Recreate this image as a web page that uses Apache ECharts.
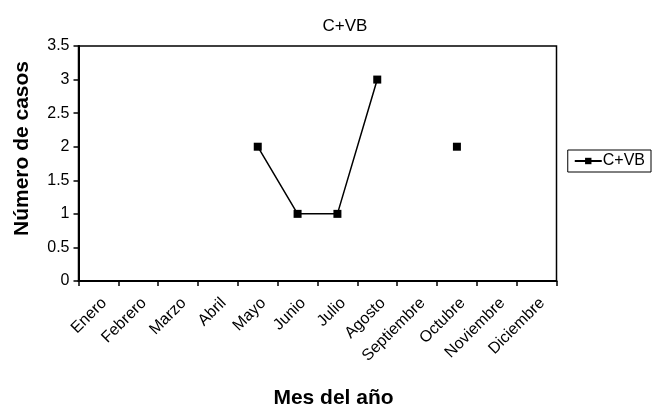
<!DOCTYPE html>
<html>
<head>
<meta charset="utf-8">
<script src="https://cdn.jsdelivr.net/npm/echarts@6/dist/echarts.min.js"></script>
<style>
  html, body { margin: 0; padding: 0; background: #fff; }
  #chart { width: 656px; height: 406px; }
</style>
</head>
<body>
<div id="chart"></div>
<script>
// Months of the year (x axis)
const months = ['Enero', 'Febrero', 'Marzo', 'Abril', 'Mayo', 'Junio', 'Julio',
  'Agosto', 'Septiembre', 'Octubre', 'Noviembre', 'Diciembre'];
// Number of C+VB cases per month (null = no data)
const casosCVB = [null, null, null, null, 2, 1, 1, 3, null, 2, null, null];
const seriesName = 'C+VB';
const yTicks = { min: 0, max: 3.5, interval: 0.5 };

const chart = echarts.init(document.getElementById('chart'), null, { renderer: 'canvas' });
const FONT = '"Liberation Sans", Arial, sans-serif';

chart.setOption({
  animation: false,
  backgroundColor: '#fff',
  title: {
    text: 'C+VB',
    left: 340,
    top: 13,
    textAlign: 'center',
    textStyle: { fontFamily: FONT, fontSize: 17, fontWeight: 'normal', color: '#000' }
  },
  legend: {
    right: 5,
    top: 150,
    orient: 'vertical',
    data: [seriesName],
    itemWidth: 27,
    itemHeight: 8,
    itemGap: 0,
    padding: [3, 6, 3, 6],
    borderColor: '#000',
    borderWidth: 1,
    borderRadius: 0,
    textStyle: { fontFamily: FONT, fontSize: 16, color: '#000', padding: [0, 0, 0, -4] }
  },
  grid: {
    left: 78.5,
    right: 99.5,
    top: 46,
    bottom: 125,
    containLabel: false,
    outerBoundsMode: 'none',
    show: true,
    borderColor: '#000',
    borderWidth: 1.5,
    backgroundColor: 'transparent'
  },
  xAxis: {
    type: 'category',
    data: months,
    boundaryGap: true,
    name: 'Mes del año',
    nameLocation: 'middle',
    nameGap: 107,
    nameTextStyle: {
      fontFamily: FONT, fontSize: 21, fontWeight: 'bold', color: '#000',
      padding: [0, 0, 0, 32]
    },
    axisLine: { lineStyle: { color: '#000', width: 2 } },
    axisTick: { show: true, length: 5, lineStyle: { color: '#000', width: 1.5 } },
    axisLabel: {
      rotate: 45,
      interval: 0,
      margin: 14,
      align: 'right',
      verticalAlign: 'top',
      fontFamily: FONT,
      fontSize: 16,
      color: '#000'
    },
    splitLine: { show: false }
  },
  yAxis: {
    type: 'value',
    min: yTicks.min,
    max: yTicks.max,
    interval: yTicks.interval,
    name: 'Número de casos',
    nameLocation: 'middle',
    nameGap: 46,
    nameTextStyle: {
      fontFamily: FONT, fontSize: 21, fontWeight: 'bold', color: '#000',
      padding: [0, 0, 0, 30]
    },
    axisLine: { show: true, lineStyle: { color: '#000', width: 2 } },
    axisTick: { show: true, length: 5, lineStyle: { color: '#000', width: 1.5 } },
    axisLabel: { fontFamily: FONT, fontSize: 16, color: '#000', margin: 9 },
    splitLine: { show: false }
  },
  series: [{
    name: seriesName,
    type: 'line',
    data: casosCVB,
    connectNulls: false,
    symbol: 'rect',
    symbolSize: 8,
    showAllSymbol: true,
    itemStyle: { color: '#000' },
    lineStyle: { color: '#000', width: 1.5 }
  }]
});
</script>
</body>
</html>
